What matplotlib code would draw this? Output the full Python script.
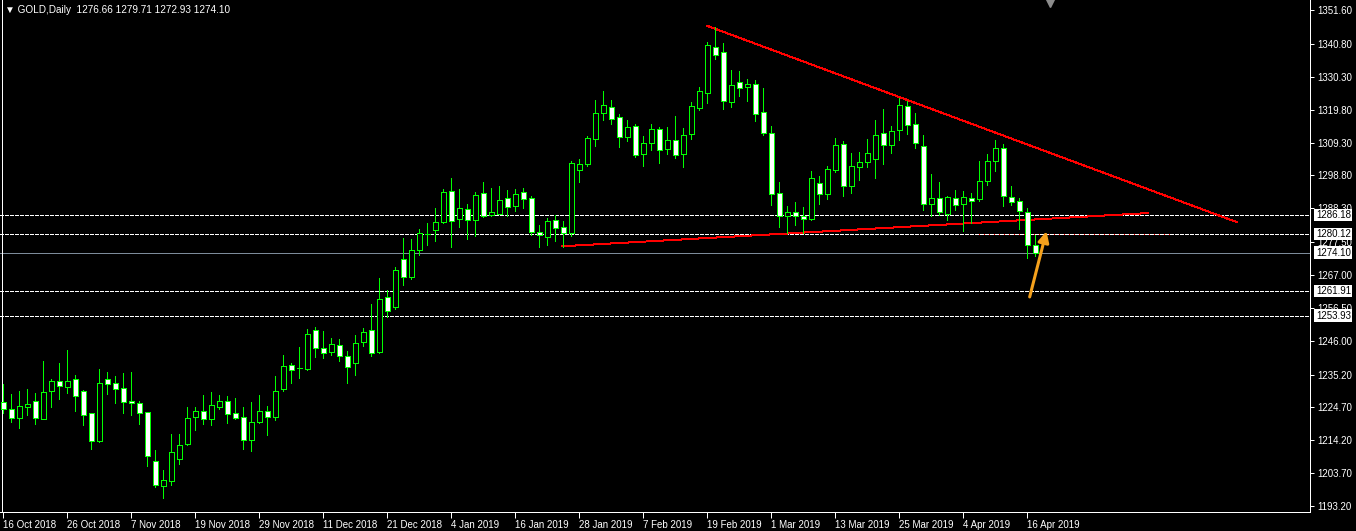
import matplotlib
matplotlib.use("Agg")
import matplotlib.pyplot as plt
import matplotlib.transforms as mtransforms

plt.rcParams["font.family"] = ["Liberation Sans", "DejaVu Sans"]

# daily GOLD candles, 16 Oct 2018 .. 17 Apr 2019 (bar index 0..129)
opens = [1226.4, 1224.2, 1221.4, 1224.9, 1226.9, 1221.1, 1230.0, 1233.3, 1231.3, 1233.7,
         1229.8, 1222.8, 1214.0, 1233.7, 1232.4, 1230.8, 1226.9, 1226.0, 1223.1, 1207.5,
         1199.7, 1201.3, 1208.3, 1213.1, 1221.7, 1223.4, 1221.1, 1224.9, 1226.9, 1222.8,
         1221.8, 1214.4, 1220.1, 1223.7, 1221.7, 1230.7, 1238.4, 1237.2, 1237.1, 1249.3,
         1243.6, 1242.4, 1244.5, 1241.0, 1238.8, 1245.5, 1249.3, 1242.5, 1259.9, 1256.9,
         1272.0, 1266.3, 1274.9, 1280.2, 1281.5, 1283.8, 1293.7, 1284.8, 1288.0, 1284.5,
         1293.1, 1286.1, 1286.6, 1291.5, 1288.9, 1293.4, 1291.5, 1280.6, 1279.0, 1284.5,
         1282.2, 1280.3, 1300.7, 1302.6, 1310.6, 1318.9, 1320.6, 1317.4, 1311.2, 1314.5,
         1305.8, 1309.1, 1313.6, 1307.4, 1310.1, 1305.8, 1311.9, 1320.5, 1325.3, 1339.8,
         1338.2, 1322.4, 1328.6, 1327.0, 1327.9, 1319.0, 1312.3, 1293.1, 1286.0, 1287.0,
         1285.8, 1284.8, 1296.3, 1292.8, 1300.7, 1308.8, 1295.4, 1301.4, 1303.0, 1304.2,
         1312.3, 1308.7, 1313.2, 1320.9, 1315.1, 1308.1, 1289.6, 1291.5, 1286.6, 1291.5,
         1289.6, 1291.5, 1291.2, 1296.9, 1303.5, 1307.5, 1291.8, 1290.5, 1287.0, 1276.66]
highs = [1232.2, 1229.0, 1229.9, 1230.6, 1229.3, 1239.5, 1233.8, 1238.9, 1243.0, 1235.0,
         1230.3, 1223.0, 1236.9, 1236.0, 1234.7, 1235.7, 1236.0, 1226.7, 1223.2, 1211.1,
         1204.7, 1216.2, 1216.2, 1224.8, 1224.8, 1228.6, 1229.6, 1228.6, 1228.2, 1227.7,
         1224.8, 1226.4, 1228.6, 1225.1, 1234.7, 1241.4, 1238.8, 1244.0, 1249.7, 1250.3,
         1249.1, 1246.9, 1246.5, 1242.7, 1247.8, 1250.1, 1257.8, 1266.0, 1262.2, 1269.6,
         1278.8, 1278.5, 1281.6, 1283.5, 1288.4, 1294.5, 1298.0, 1294.5, 1289.7, 1293.4,
         1296.6, 1294.8, 1295.4, 1294.2, 1294.5, 1294.8, 1292.1, 1283.0, 1285.1, 1286.1,
         1284.2, 1303.5, 1304.1, 1311.4, 1322.9, 1325.8, 1322.9, 1318.5, 1316.5, 1315.3,
         1311.4, 1315.3, 1314.3, 1314.3, 1317.8, 1314.0, 1322.3, 1327.1, 1341.5, 1346.4,
         1341.1, 1332.5, 1332.2, 1329.6, 1329.3, 1326.8, 1314.6, 1296.7, 1289.1, 1290.4,
         1288.8, 1300.3, 1298.7, 1301.9, 1310.8, 1309.7, 1305.9, 1306.3, 1310.4, 1316.5,
         1320.0, 1314.6, 1323.5, 1322.6, 1318.8, 1311.6, 1299.3, 1296.7, 1292.2, 1294.1,
         1293.8, 1293.2, 1303.4, 1305.7, 1310.1, 1308.8, 1295.4, 1291.5, 1288.3, 1279.71]
lows = [1223.0, 1220.0, 1218.2, 1222.3, 1219.5, 1220.9, 1224.9, 1227.5, 1229.4, 1223.7,
        1219.1, 1211.5, 1213.8, 1229.1, 1226.2, 1223.0, 1222.3, 1219.5, 1206.1, 1199.4,
        1195.9, 1199.8, 1206.5, 1212.7, 1217.5, 1219.4, 1219.1, 1224.2, 1219.7, 1221.0,
        1211.4, 1210.8, 1219.8, 1215.9, 1220.7, 1230.0, 1232.6, 1234.2, 1236.7, 1240.9,
        1240.6, 1241.4, 1239.6, 1232.5, 1235.0, 1244.4, 1241.2, 1242.2, 1253.5, 1256.3,
        1263.8, 1265.8, 1273.5, 1276.7, 1278.0, 1283.5, 1276.1, 1282.2, 1278.6, 1279.6,
        1285.4, 1286.0, 1286.5, 1285.8, 1287.3, 1288.3, 1279.7, 1276.1, 1276.7, 1278.0,
        1276.1, 1279.4, 1296.7, 1301.9, 1308.2, 1316.5, 1315.3, 1307.9, 1309.9, 1304.7,
        1301.9, 1307.0, 1302.8, 1305.7, 1304.5, 1301.5, 1310.6, 1319.7, 1322.0, 1336.0,
        1320.2, 1320.8, 1324.3, 1322.7, 1316.3, 1311.8, 1289.5, 1282.2, 1280.3, 1283.1,
        1280.3, 1284.7, 1289.8, 1291.4, 1300.0, 1292.4, 1293.3, 1297.5, 1301.6, 1298.1,
        1302.6, 1306.1, 1310.2, 1312.1, 1307.5, 1287.9, 1285.9, 1286.1, 1284.7, 1287.9,
        1281.0, 1283.5, 1290.7, 1295.9, 1300.3, 1289.1, 1289.3, 1281.8, 1272.3, 1272.93]
closes = [1224.1, 1221.4, 1225.0, 1225.8, 1221.2, 1229.5, 1233.3, 1231.4, 1233.0, 1228.5,
          1222.2, 1213.9, 1232.4, 1232.3, 1230.7, 1226.3, 1226.0, 1222.8, 1209.3, 1199.8,
          1201.4, 1210.4, 1212.6, 1221.2, 1223.4, 1221.1, 1225.4, 1226.6, 1222.5, 1221.4,
          1214.2, 1220.2, 1223.7, 1221.8, 1229.8, 1237.8, 1236.5, 1237.2, 1248.0, 1243.8,
          1242.2, 1245.0, 1241.2, 1237.7, 1245.2, 1248.7, 1242.2, 1259.2, 1255.4, 1268.5,
          1266.3, 1274.9, 1280.3, 1280.2, 1283.8, 1293.4, 1284.2, 1288.3, 1284.5, 1292.5,
          1285.8, 1287.0, 1290.9, 1288.6, 1292.8, 1291.2, 1280.8, 1279.7, 1284.2, 1281.9,
          1280.3, 1302.7, 1302.5, 1310.7, 1318.7, 1321.2, 1317.0, 1311.2, 1314.2, 1305.5,
          1309.1, 1313.6, 1307.1, 1310.1, 1305.2, 1311.7, 1320.9, 1325.7, 1340.4, 1337.4,
          1322.7, 1327.6, 1326.7, 1327.9, 1318.6, 1312.3, 1292.8, 1285.8, 1287.0, 1286.0,
          1284.8, 1297.9, 1292.8, 1300.8, 1308.5, 1295.4, 1301.7, 1303.0, 1306.0, 1311.6,
          1308.7, 1312.9, 1321.2, 1314.8, 1309.1, 1289.6, 1291.5, 1287.0, 1291.8, 1289.3,
          1291.8, 1290.8, 1296.9, 1303.3, 1307.6, 1292.1, 1290.2, 1287.3, 1276.7, 1274.10]

date_ticks = list(range(0, 129, 8))
date_labels = ["16 Oct 2018", "26 Oct 2018", "7 Nov 2018", "19 Nov 2018", "29 Nov 2018",
               "11 Dec 2018", "21 Dec 2018", "4 Jan 2019", "16 Jan 2019", "28 Jan 2019",
               "7 Feb 2019", "19 Feb 2019", "1 Mar 2019", "13 Mar 2019", "25 Mar 2019",
               "4 Apr 2019", "16 Apr 2019"]
price_ticks = [1351.60, 1340.80, 1330.30, 1319.80, 1309.30, 1298.80, 1288.30, 1277.50,
               1267.00, 1256.50, 1246.00, 1235.20, 1224.70, 1214.20, 1203.70, 1193.20]

levels = [1286.18, 1280.12, 1261.91, 1253.93]
bid = 1274.10

# drawn objects: (bar, price) end points
resist_line = [(88.0, 1346.6), (154.2, 1283.9)]
support_line = [(69.9, 1276.2), (143.1, 1286.8)]
flat_line = [(122.0, 1280.0), (145.8, 1280.0)]
arrow_tail = (128.3, 1260.0)
arrow_tip = (130.4, 1281.0)

GREEN = "#00ff00"
PX = 0.72  # one pixel in points at 100 dpi
header = "\u25bc GOLD,Daily  1276.66 1279.71 1272.93 1274.10"

fig = plt.figure(figsize=(13.56, 5.31), dpi=100, facecolor="black")
ax = fig.add_axes([0, 19 / 531, 1310 / 1356, 512 / 531], facecolor="black")
ax.set_xlim(-0.41, 163.34)
ax.set_ylim(1191.29, 1354.87)

# levels
for lv in levels:
    ax.axhline(lv, color="white", lw=PX, ls=(0, (4, 2)), antialiased=False, zorder=1)
ax.axhline(bid, color="#7d8b9a", lw=PX, antialiased=False, zorder=1)

# red trendlines
for seg in (flat_line, support_line, resist_line):
    ax.plot([seg[0][0], seg[1][0]], [seg[0][1], seg[1][1]], color="#ff0000",
            lw=PX, antialiased=False, zorder=0.9 if seg is flat_line else 2)

# candles
idx = list(range(len(opens)))
ax.vlines(idx, lows, highs, color=GREEN, lw=PX, antialiased=False, zorder=3)
bottoms = [min(o, c) for o, c in zip(opens, closes)]
heights = [abs(c - o) for o, c in zip(opens, closes)]
faces = ["white" if c < o else "black" for o, c in zip(opens, closes)]
ax.bar(idx, heights, bottom=bottoms, width=0.56, color=faces, edgecolor=GREEN,
       linewidth=PX, antialiased=False, zorder=4)

ax.annotate("", xy=arrow_tip, xytext=arrow_tail,
            arrowprops=dict(arrowstyle="-|>", color="#f5a11c", lw=2.2,
                            mutation_scale=16, shrinkA=0, shrinkB=0), zorder=5)

# axes frame like the terminal
for s in ("left", "top"):
    ax.spines[s].set_visible(False)
for s in ("right", "bottom"):
    ax.spines[s].set_color("white")
    ax.spines[s].set_linewidth(PX)
    ax.spines[s].set_antialiased(False)
ax.plot([0.0015, 0.0015], [0, 1], transform=ax.transAxes, color="white", lw=PX,
        clip_on=False, antialiased=False)

ax.yaxis.tick_right()
ax.set_yticks(price_ticks)
ax.set_yticklabels([f"{p:.2f}" for p in price_ticks])
ax.tick_params(axis="y", colors="white", labelsize=7, length=3, pad=2, width=PX)
ax.set_xticks(date_ticks)
ax.set_xticklabels(date_labels)
ax.tick_params(axis="x", colors="white", labelsize=7, length=4, pad=1.5, width=PX)
for t in ax.get_xticklabels():
    t.set_horizontalalignment("left")

trans = mtransforms.blended_transform_factory(ax.transAxes, ax.transData)
for lv in levels + [bid]:
    ax.text(1.0045, lv, f"{lv:.2f}", transform=trans, color="black", fontsize=7,
            va="center", ha="left", zorder=6, clip_on=False,
            bbox=dict(boxstyle="square,pad=0.15", fc="white", ec="none"))

# chart shift marker
ax.plot([130.8], [0.994], marker="v", color="#8c8c8c", ms=6,
        transform=mtransforms.blended_transform_factory(ax.transData, ax.transAxes),
        clip_on=False)

fig.text(5 / 1356, 1 - 10 / 531, header, color="white", fontsize=7.2, va="center",
         ha="left")

fig.savefig("out.png", dpi=100, facecolor="black")
